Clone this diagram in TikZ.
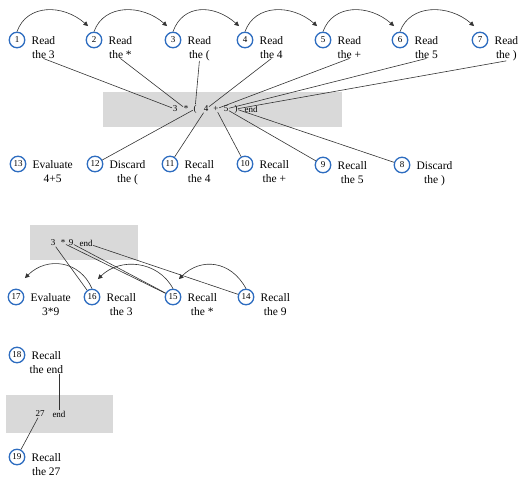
\documentclass[tikz,border=0pt]{standalone}
\usepackage{fontspec}
\setmainfont{Liberation Serif}
\usetikzlibrary{positioning, calc, arrows.meta}
\definecolor{Ring}{HTML}{2E6DC0}
\definecolor{Stack}{HTML}{D9D9D9}
\definecolor{Ink}{HTML}{333333}
\tikzset{
    stepnum/.style={circle, draw=Ring, line width=1.3pt, fill=white, minimum size=15.5pt, inner sep=0pt, font=\fontsize{9}{9}\selectfont},
    steptext/.style={anchor=north west, align=center, inner sep=0pt, font=\fontsize{11.5}{14}\selectfont},
    stackbox/.style={rectangle, fill=Stack, inner sep=0pt},
    token/.style={inner sep=0.5pt, font=\fontsize{9}{9}\selectfont},
    link/.style={Ink, line width=0.6pt},
    hop/.style={-{Triangle[length=4.5pt,width=4.5pt]}, Ink, line width=0.6pt},
}

\begin{document}
\begin{tikzpicture}[x=1pt, y=-1pt]
    \useasboundingbox (0,0) rectangle (518,480);

    % grey stacks
    \node[stackbox, minimum width=239pt, minimum height=35pt] (stack1) at (222.5,109.5) {};
    \node[stackbox, minimum width=108pt, minimum height=35pt] (stack2) at (84,242.5) {};
    \node[stackbox, minimum width=107pt, minimum height=38pt] (stack3) at (59.5,414) {};

    % tokens: 3 * ( 4 + 5 ) end
    \node[token] (b3) at (175,109) {3};
    \node[token] (bstar) at (186,109) {*};
    \node[token] (bparen) at (195,109) {(};
    \node[token] (b4) at (206,109) {4};
    \node[token] (bplus) at (216,109) {+};
    \node[token] (b5) at (226,109) {5};
    \node[token] (brp) at (236,109) {)};
    \node[token] (bend) at (251,109) {end};

    % tokens: 3 * 9 end
    \node[token] (m3) at (53,243) {3};
    \node[token] (mstar) at (63,243) {*};
    \node[token] (m9) at (71,243) {9};
    \node[token] (mend) at (86,243) {end};

    % tokens: 27 end
    \node[token] (n27) at (40,414) {27};
    \node[token] (nend) at (59,414) {end};

    % reading the input
    \node[stepnum] (c1) at (17,40) {1};
    \node[steptext] (t1) at ([xshift=6pt,yshift=4pt]c1.east) {Read\\the 3};
    \node[stepnum] (c2) at (94,40) {2};
    \node[steptext] (t2) at ([xshift=6pt,yshift=4pt]c2.east) {Read\\the *};
    \node[stepnum] (c3) at (173,40) {3};
    \node[steptext] (t3) at ([xshift=6pt,yshift=4pt]c3.east) {Read\\the (};
    \node[stepnum] (c4) at (245,40) {4};
    \node[steptext] (t4) at ([xshift=6pt,yshift=4pt]c4.east) {Read\\the 4};
    \node[stepnum] (c5) at (323,40) {5};
    \node[steptext] (t5) at ([xshift=6pt,yshift=4pt]c5.east) {Read\\the +};
    \node[stepnum] (c6) at (400,40) {6};
    \node[steptext] (t6) at ([xshift=6pt,yshift=4pt]c6.east) {Read\\the 5};
    \node[stepnum] (c7) at (480,40) {7};
    \node[steptext] (t7) at ([xshift=6pt,yshift=4pt]c7.east) {Read\\the )};

    \draw[hop] (c1.north) .. controls +(10,-28) and +(-25,-22) .. ([yshift=8pt]c2.north west);
    \draw[hop] (c2.north) .. controls +(10,-28) and +(-25,-22) .. ([yshift=8pt]c3.north west);
    \draw[hop] (c3.north) .. controls +(10,-28) and +(-25,-22) .. ([yshift=8pt]c4.north west);
    \draw[hop] (c4.north) .. controls +(10,-28) and +(-25,-22) .. ([yshift=8pt]c5.north west);
    \draw[hop] (c5.north) .. controls +(10,-28) and +(-25,-22) .. ([yshift=8pt]c6.north west);
    \draw[hop] (c6.north) .. controls +(10,-28) and +(-25,-22) .. ([yshift=8pt]c7.north west);

    \draw[link] (t1.south) -- (b3);
    \draw[link] (t2.south) -- (bstar);
    \draw[link] (t3.south) -- (bparen);
    \draw[link] (t4.south) -- (b4);
    \draw[link] (t5.south) -- (bplus);
    \draw[link] (t6.south) -- (b5);
    \draw[link] (t7.south) -- (brp);

    % working off the stack
    \node[stepnum] (c13) at (18,164) {13};
    \node[steptext] (t13) at ([xshift=6pt,yshift=4pt]c13.east) {Evaluate\\4+5};
    \node[stepnum] (c12) at (95,164) {12};
    \node[steptext] (t12) at ([xshift=6pt,yshift=4pt]c12.east) {Discard\\the (};
    \node[stepnum] (c11) at (170,164) {11};
    \node[steptext] (t11) at ([xshift=6pt,yshift=4pt]c11.east) {Recall\\the 4};
    \node[stepnum] (c10) at (245,164) {10};
    \node[steptext] (t10) at ([xshift=6pt,yshift=4pt]c10.east) {Recall\\the +};
    \node[stepnum] (c9) at (323,165) {9};
    \node[steptext] (t9) at ([xshift=6pt,yshift=4pt]c9.east) {Recall\\the 5};
    \node[stepnum] (c8) at (402,165) {8};
    \node[steptext] (t8) at ([xshift=6pt,yshift=4pt]c8.east) {Discard\\the )};

    \draw[link] (bparen) -- (c12);
    \draw[link] (b4) -- (c11);
    \draw[link] (bplus) -- (c10);
    \draw[link] (b5) -- (c9);
    \draw[link] (brp) -- (c8);

    % second stack
    \node[stepnum] (c17) at (16,297) {17};
    \node[steptext] (t17) at ([xshift=6pt,yshift=4pt]c17.east) {Evaluate\\3*9};
    \node[stepnum] (c16) at (92,297) {16};
    \node[steptext] (t16) at ([xshift=6pt,yshift=4pt]c16.east) {Recall\\the 3};
    \node[stepnum] (c15) at (173,297) {15};
    \node[steptext] (t15) at ([xshift=6pt,yshift=4pt]c15.east) {Recall\\the *};
    \node[stepnum] (c14) at (246,297) {14};
    \node[steptext] (t14) at ([xshift=6pt,yshift=4pt]c14.east) {Recall\\the 9};

    \draw[hop] (c16.north) .. controls +(-12,-28) and +(22,-22) .. ([xshift=3pt,yshift=13pt]c17.north east);
    \draw[hop] (c15.north) .. controls +(-15,-28) and +(22,-22) .. ([yshift=12pt]c16.north east);
    \draw[hop] (c14.north) .. controls +(-15,-28) and +(22,-22) .. ([yshift=12pt]c15.north east);

    \draw[link] (m3) -- (c16);
    \draw[link] (mstar) -- (c15);
    \draw[link] (m9) -- (c15);
    \draw[link] (mend) -- (c14);

    % result
    \node[stepnum] (c18) at (17,355) {18};
    \node[steptext] (t18) at ([xshift=4pt,yshift=4pt]c18.east) {Recall\\the end};
    \node[stepnum] (c19) at (17,457) {19};
    \node[steptext] (t19) at ([xshift=6pt,yshift=4pt]c19.east) {Recall\\the 27};

    \draw[link] (t18.south -| nend) -- (nend);
    \draw[link] (n27) -- (c19);
\end{tikzpicture}
\end{document}
